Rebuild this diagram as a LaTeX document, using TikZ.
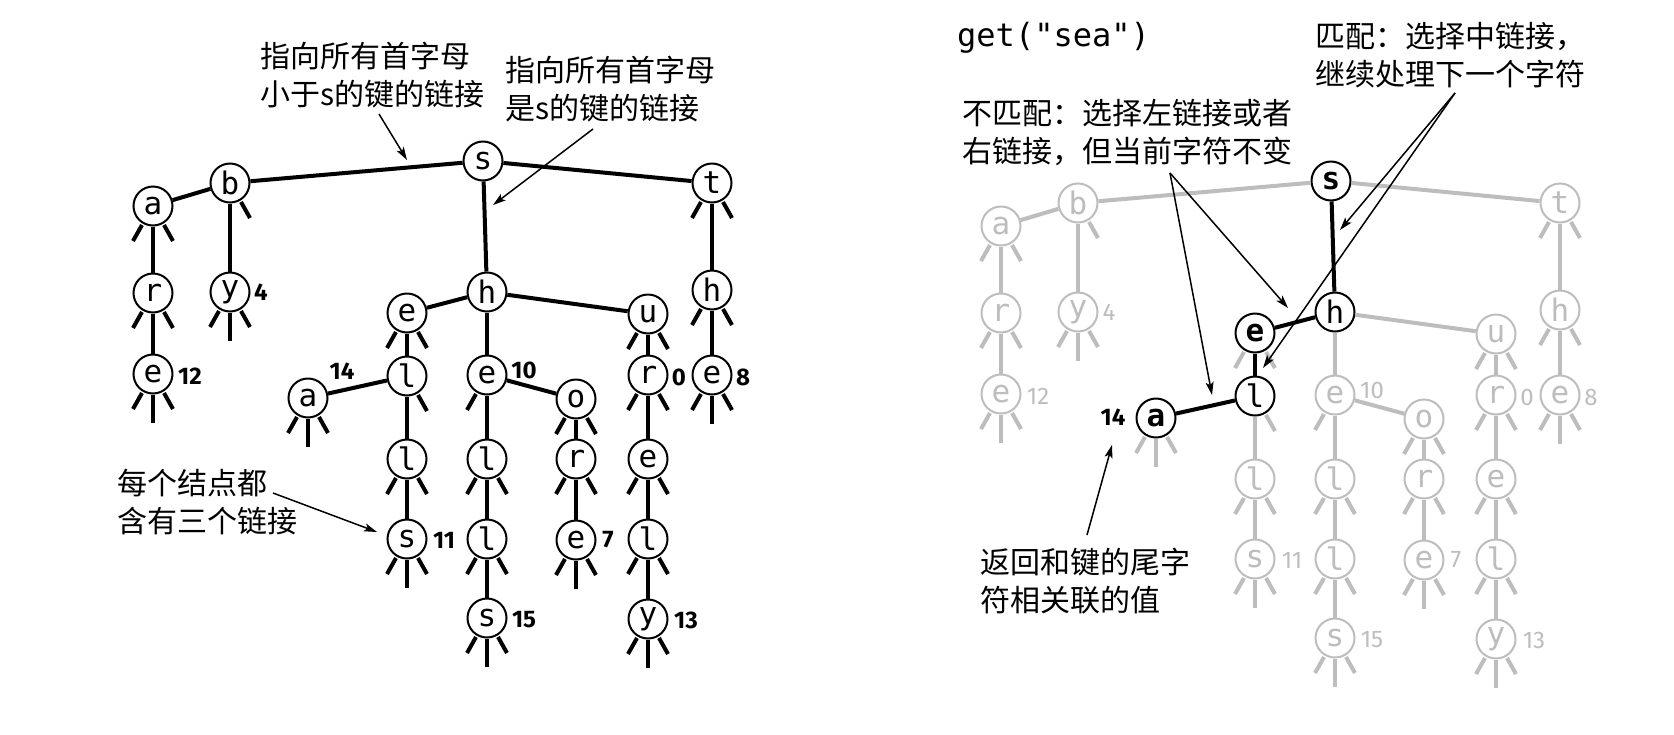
\documentclass[tikz,border=0pt]{standalone}
\usepackage{fontspec}
\setmonofont{DejaVu Sans Mono}
\newfontfamily\cjkf{Noto Sans CJK SC}
\newfontfamily\numf{Fira Sans}
\usetikzlibrary{arrows.meta}
\definecolor{lg}{RGB}{189,189,189}
\tikzset{
  tnode/.style={circle, draw=black, text=black, line width=2pt, minimum size=39pt, inner sep=0pt, fill=white, font=\ttfamily\fontsize{31}{33}\selectfont},
  tedge/.style={draw=black, line width=4pt},
  tstub/.style={draw=black, line width=4pt},
  tlab/.style={inner sep=0pt, text=black, font=\numf\bfseries\fontsize{24}{26}\selectfont},
  note/.style={inner sep=0pt, align=left, anchor=west, font=\cjkf\fontsize{30}{38.5}\selectfont},
  ptr/.style={line width=1.5pt, -{Stealth[length=13pt,width=8pt,inset=3pt]}},
  grey tree/.style={tnode/.append style={draw=lg, text=lg}, tedge/.append style={draw=lg}, tstub/.append style={draw=lg}, tlab/.append style={text=lg, font=\numf\fontsize{24}{26}\selectfont}},
  keybold/.style={draw=black, text=black, font=\ttfamily\bfseries\fontsize{31}{33}\selectfont},
  keyplain/.style={draw=black, text=black},
}
\newcommand\stubL[1]{\draw[tstub] (#1) ++(-11,19) -- ++(-9,16);}
\newcommand\stubM[1]{\draw[tstub] (#1) ++(0,21) -- ++(0,28);}
\newcommand\stubR[1]{\draw[tstub] (#1) ++(11,19) -- ++(9,16);}
\newcommand\trie[1]{%
  \node[tnode,hl-s/.try] (#1s) at (483,161) {s};
  \node[tnode] (#1b) at (230,183) {b};
  \node[tnode] (#1a) at (153,206) {a};
  \node[tnode] (#1ar) at (153,293) {r};
  \node[tnode] (#1are) at (153,374) {e};
  \node[tnode] (#1by) at (230,292) {y};
  \node[tnode] (#1t) at (712,183) {t};
  \node[tnode] (#1th) at (712,290) {h};
  \node[tnode] (#1the) at (712,375) {e};
  \node[tnode,hl-h/.try] (#1h) at (487,292) {h};
  \node[tnode,hl-se/.try] (#1se) at (407,313) {e};
  \node[tnode,hl-sel/.try] (#1sel) at (407,376) {l};
  \node[tnode,hl-sea/.try] (#1sea) at (308,398) {a};
  \node[tnode] (#1sell) at (407,459) {l};
  \node[tnode] (#1sells) at (407,539) {s};
  \node[tnode] (#1she) at (487,375) {e};
  \node[tnode] (#1shel) at (487,459) {l};
  \node[tnode] (#1shell) at (487,539) {l};
  \node[tnode] (#1shells) at (487,618) {s};
  \node[tnode] (#1sho) at (576,399) {o};
  \node[tnode] (#1shor) at (576,459) {r};
  \node[tnode] (#1shore) at (576,540) {e};
  \node[tnode] (#1su) at (648,314) {u};
  \node[tnode] (#1sur) at (648,375) {r};
  \node[tnode] (#1sure) at (648,459) {e};
  \node[tnode] (#1surel) at (648,539) {l};
  \node[tnode] (#1surely) at (648,619) {y};
  % links
  \draw[tedge] (#1a) -- (#1b);
  \draw[tedge] (#1b) -- (#1s);
  \draw[tedge] (#1s) -- (#1t);
  \draw[tedge,hle-sh/.try] (#1s) -- (#1h);
  \draw[tedge] (#1b) -- (#1by);
  \draw[tedge] (#1a) -- (#1ar);
  \draw[tedge] (#1ar) -- (#1are);
  \draw[tedge] (#1t) -- (#1th);
  \draw[tedge] (#1th) -- (#1the);
  \draw[tedge,hle-hse/.try] (#1h) -- (#1se);
  \draw[tedge] (#1h) -- (#1she);
  \draw[tedge] (#1h) -- (#1su);
  \draw[tedge,hle-sesel/.try] (#1se) -- (#1sel);
  \draw[tedge,hle-selsea/.try] (#1sel) -- (#1sea);
  \draw[tedge] (#1sel) -- (#1sell);
  \draw[tedge] (#1sell) -- (#1sells);
  \draw[tedge] (#1she) -- (#1shel);
  \draw[tedge] (#1shel) -- (#1shell);
  \draw[tedge] (#1shell) -- (#1shells);
  \draw[tedge] (#1she) -- (#1sho);
  \draw[tedge] (#1sho) -- (#1shor);
  \draw[tedge] (#1shor) -- (#1shore);
  \draw[tedge] (#1su) -- (#1sur);
  \draw[tedge] (#1sur) -- (#1sure);
  \draw[tedge] (#1sure) -- (#1surel);
  \draw[tedge] (#1surel) -- (#1surely);
  % null links
  \stubR{#1b}
  \stubL{#1a}\stubR{#1a}
  \stubL{#1ar}\stubR{#1ar}
  \stubL{#1are}\stubM{#1are}\stubR{#1are}
  \stubL{#1by}\stubM{#1by}\stubR{#1by}
  \stubL{#1t}\stubR{#1t}
  \stubL{#1th}\stubR{#1th}
  \stubL{#1the}\stubM{#1the}\stubR{#1the}
  \stubL{#1se}\stubR{#1se}
  \stubR{#1sel}
  \stubL{#1sea}\stubM{#1sea}\stubR{#1sea}
  \stubL{#1sell}\stubR{#1sell}
  \stubL{#1sells}\stubM{#1sells}\stubR{#1sells}
  \stubL{#1she}
  \stubL{#1shel}\stubR{#1shel}
  \stubL{#1shell}\stubR{#1shell}
  \stubL{#1shells}\stubM{#1shells}\stubR{#1shells}
  \stubL{#1sho}\stubR{#1sho}
  \stubL{#1shor}\stubR{#1shor}
  \stubL{#1shore}\stubM{#1shore}\stubR{#1shore}
  \stubL{#1su}\stubR{#1su}
  \stubL{#1sur}\stubR{#1sur}
  \stubL{#1sure}\stubR{#1sure}
  \stubL{#1surel}\stubR{#1surel}
  \stubL{#1surely}\stubM{#1surely}\stubR{#1surely}
  % values
  \node[tlab] (#1v4) at (261,292) {4};
  \node[tlab] (#1v12) at (190,376) {12};
  \node[tlab] (#1v10) at (524,370) {10};
  \node[tlab] (#1v11) at (444,540) {11};
  \node[tlab] (#1v15) at (524,620) {15};
  \node[tlab] (#1v7) at (608,540) {7};
  \node[tlab] (#1v0) at (679,377) {0};
  \node[tlab] (#1v8) at (743,377) {8};
  \node[tlab] (#1v13) at (686,620) {13};
}
\begin{document}
\begin{tikzpicture}[x=1pt,y=-1pt]
\useasboundingbox (0,0) rectangle (1674,734);
% ---------- left tree ----------
\trie{L}
\node[tlab] (Lv14) at (342,371) {14};
\node[note] (nA) at (260,75) {指向所有首字母\\小于s的键的链接};
\node[note] (nB) at (505,89) {指向所有首字母\\是s的键的链接};
\node[note] (nC) at (117,502) {每个结点都\\含有三个链接};
\coordinate (pA) at (379,114); \coordinate (qA) at (407,160);
\coordinate (pB) at (593,129); \coordinate (qB) at (493,205);
\coordinate (pC) at (273,493); \coordinate (qC) at (377,532);
\draw[ptr] (pA) -- (qA);
\draw[ptr] (pB) -- (qB);
\draw[ptr] (pC) -- (qC);
% ---------- right tree ----------
\begin{scope}[shift={(848,20)}, grey tree,
  hl-s/.style={keybold}, hl-h/.style={keyplain}, hl-se/.style={keybold},
  hl-sel/.style={keyplain}, hl-sea/.style={keybold},
  hle-sh/.style={draw=black}, hle-hse/.style={draw=black},
  hle-sesel/.style={draw=black}, hle-selsea/.style={draw=black}]
\trie{R}
\end{scope}
\node[tlab] (Rv14) at (1113,417) {14};
\node[anchor=west, inner sep=0pt, font=\ttfamily\fontsize{32}{34}\selectfont] (get) at (957,38) {get("sea")};
\node[note] (nD) at (962,132.5) {不匹配：选择左链接或者\\右链接，但当前字符不变};
\node[note] (nE) at (1315,55) {匹配：选择中链接，\\继续处理下一个字符};
\node[note] (nF) at (980,581) {返回和键的尾字\\符相关联的值};
\coordinate (pD) at (1170,173);
\coordinate (qD1) at (1212,395); \coordinate (qD2) at (1288,308);
\coordinate (pE) at (1455,93);
\coordinate (qE1) at (1340,230); \coordinate (qE2) at (1263,368);
\coordinate (pF) at (1087,535); \coordinate (qF) at (1112,445);
\draw[ptr] (pD) -- (qD1);
\draw[ptr] (pD) -- (qD2);
\draw[ptr] (pE) -- (qE1);
\draw[ptr] (pE) -- (qE2);
\draw[ptr] (pF) -- (qF);
\end{tikzpicture}
\end{document}
